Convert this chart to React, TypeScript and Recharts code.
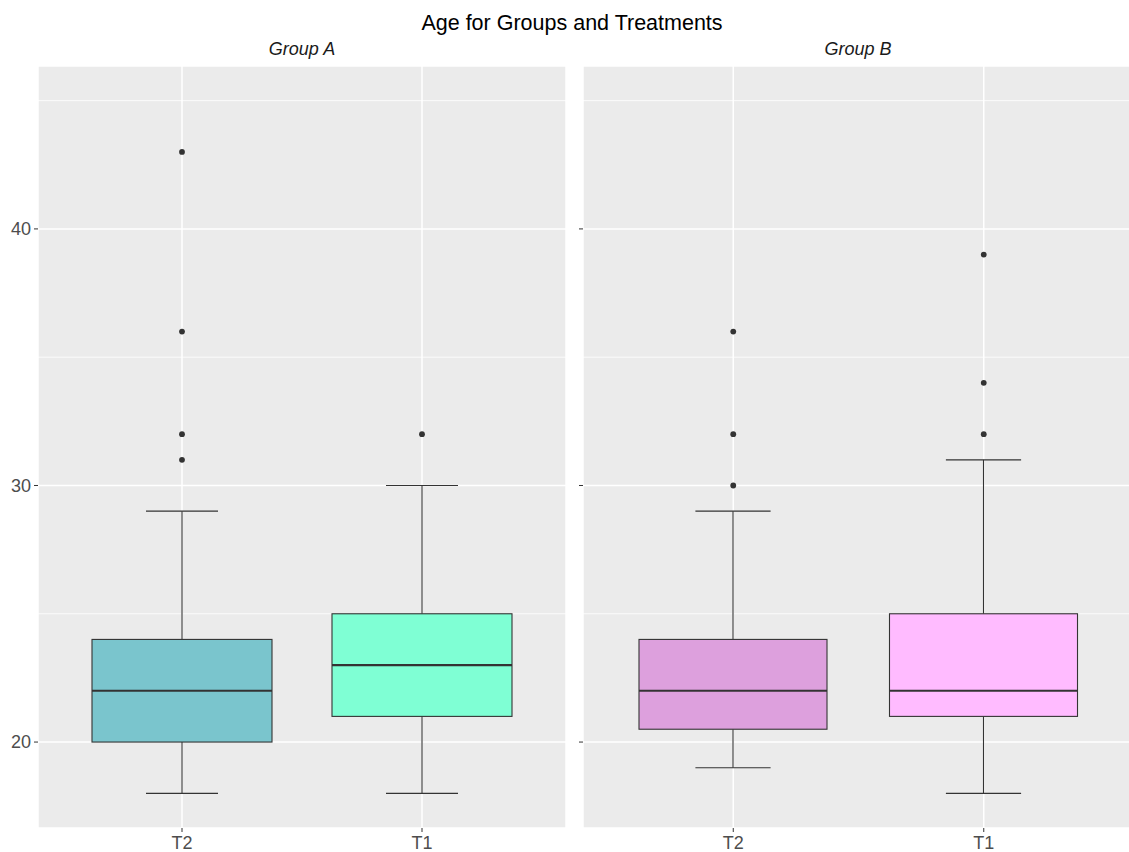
import React from 'react';
import {
  ComposedChart,
  Bar,
  Line,
  XAxis,
  YAxis,
  CartesianGrid,
} from 'recharts';

// Treatments shown along each panel's x axis
const treatments = ['T2', 'T1'];

// Group A box-plot statistics (per treatment)
const groupALower = [18, 18];
const groupAQ1 = [20, 21];
const groupAMedian = [22, 23];
const groupAQ3 = [24, 25];
const groupAUpper = [29, 30];
const groupAOutliers = [[31, 32, 36, 43], [32]];
const groupAColors = ['#7AC5CD', '#7FFFD4'];

// Group B box-plot statistics (per treatment)
const groupBLower = [19, 18];
const groupBQ1 = [20.5, 21];
const groupBMedian = [22, 22];
const groupBQ3 = [24, 25];
const groupBUpper = [29, 31];
const groupBOutliers = [[30, 32, 36], [32, 34, 39]];
const groupBColors = ['#DDA0DD', '#FFBBFF'];

// Y axis
const yDomain = [16.65, 46.35];
const yMajorTicks = [20, 30, 40];
const yMinorTicks = [25, 35, 45];

const FONT = '"Liberation Sans", Arial, Helvetica, sans-serif';
const INK = '#333333';

type Row = {
  trt: string;
  lower: number;
  q1: number;
  median: number;
  q3: number;
  upper: number;
  color: string;
  [k: string]: any;
};

function buildRows(
  lower: number[],
  q1: number[],
  median: number[],
  q3: number[],
  upper: number[],
  outliers: number[][],
  colors: string[]
): Row[] {
  return treatments.map((trt, i) => {
    const row: Row = {
      trt,
      lower: lower[i],
      q1: q1[i],
      median: median[i],
      q3: q3[i],
      upper: upper[i],
      color: colors[i],
    };
    for (let k = 0; k < 4; k++) {
      row['o' + k] = outliers[i][k] ?? null;
    }
    return row;
  });
}

const groupARows = buildRows(groupALower, groupAQ1, groupAMedian, groupAQ3, groupAUpper, groupAOutliers, groupAColors);
const groupBRows = buildRows(groupBLower, groupBQ1, groupBMedian, groupBQ3, groupBUpper, groupBOutliers, groupBColors);

// Draws a whole box plot inside the range bar [lower, upper] laid out by recharts
const BoxShape = (props: any) => {
  const { x, y, width, height, payload } = props;
  if (!payload || width == null || y == null) return null;
  const top = Math.min(y, y + height);
  const bot = Math.max(y, y + height);
  const span = payload.upper - payload.lower;
  const py = (v: number) => bot - ((v - payload.lower) / span) * (bot - top);
  const cx = x + width / 2;
  const capHalf = width * 0.2;
  const yQ1 = py(payload.q1);
  const yQ3 = py(payload.q3);
  const yMed = py(payload.median);
  const yLo = py(payload.lower);
  const yHi = py(payload.upper);
  return (
    <g>
      <line x1={cx} x2={cx} y1={yHi} y2={yQ3} stroke={INK} strokeWidth={1.1} />
      <line x1={cx} x2={cx} y1={yQ1} y2={yLo} stroke={INK} strokeWidth={1.1} />
      <line x1={cx - capHalf} x2={cx + capHalf} y1={yHi} y2={yHi} stroke={INK} strokeWidth={1.1} />
      <line x1={cx - capHalf} x2={cx + capHalf} y1={yLo} y2={yLo} stroke={INK} strokeWidth={1.1} />
      <rect
        x={x}
        y={yQ3}
        width={width}
        height={yQ1 - yQ3}
        fill={payload.color}
        stroke={INK}
        strokeWidth={1.1}
      />
      <line x1={x} x2={x + width} y1={yMed} y2={yMed} stroke={INK} strokeWidth={2.2} />
    </g>
  );
};

type PanelProps = {
  rows: Row[];
  width: number;
  axisWidth: number;
  showLabels: boolean;
};

const PLOT_TOP = 66;
const PLOT_BOTTOM_GAP = 24;
const HEIGHT = 852;

function Panel({ rows, width, axisWidth, showLabels }: PanelProps) {
  const plotW = width - axisWidth;
  const pad = Math.round(plotW * (0.1 / 2.2));
  const band = (plotW - 2 * pad) / treatments.length;
  const barSize = Math.round(band * 0.75);
  const tickStyle = { fill: '#4D4D4D', fontSize: 18, fontFamily: FONT };
  return (
    <ComposedChart
      width={width}
      height={HEIGHT}
      data={rows}
      margin={{ top: PLOT_TOP, right: 0, bottom: 0, left: 0 }}
      barSize={barSize}
    >
      <CartesianGrid
        fill="#EBEBEB"
        stroke="#FFFFFF"
        strokeWidth={0.8}
        vertical={false}
        horizontalValues={yMinorTicks}
      />
      <CartesianGrid stroke="#FFFFFF" strokeWidth={1.5} />
      <XAxis
        dataKey="trt"
        type="category"
        padding={{ left: pad, right: pad }}
        height={PLOT_BOTTOM_GAP}
        axisLine={false}
        tickLine={{ stroke: INK, strokeWidth: 1 }}
        tickSize={4}
        tickMargin={4}
        tick={tickStyle}
        interval={0}
      />
      <YAxis
        type="number"
        domain={yDomain}
        allowDataOverflow
        ticks={yMajorTicks}
        width={axisWidth}
        axisLine={false}
        tickLine={{ stroke: INK, strokeWidth: 1 }}
        tickSize={4}
        tickMargin={3}
        tick={tickStyle}
        tickFormatter={showLabels ? (v: number) => String(v) : () => ''}
      />
      <Bar
        dataKey={(d: Row) => [d.lower, d.upper]}
        shape={BoxShape}
        isAnimationActive={false}
      />
      {[0, 1, 2, 3].map((k) => (
        <Line
          key={k}
          dataKey={'o' + k}
          stroke="none"
          dot={{ r: 2.9, fill: INK, stroke: 'none' }}
          activeDot={false}
          connectNulls={false}
          isAnimationActive={false}
        />
      ))}
    </ComposedChart>
  );
}

export default function App() {
  return (
    <div
      style={{
        position: 'absolute',
        left: 0,
        top: 0,
        width: 1129,
        height: 852,
        overflow: 'hidden',
        background: '#FFFFFF',
        fontFamily: FONT,
      }}
    >
      <div style={{ position: 'absolute', left: 0, top: 0 }}>
        <Panel rows={groupARows} width={566} axisWidth={38} showLabels />
      </div>
      <div style={{ position: 'absolute', left: 578, top: 0 }}>
        <Panel rows={groupBRows} width={556} axisWidth={5} showLabels={false} />
      </div>
      <svg
        width={1129}
        height={70}
        style={{ position: 'absolute', left: 0, top: 0, pointerEvents: 'none' }}
      >
        <text x={572} y={30} textAnchor="middle" fontSize={21.5} fill="#000000" fontFamily={FONT}>
          Age for Groups and Treatments
        </text>
        <text x={302} y={55} textAnchor="middle" fontSize={18} fontStyle="italic" fill="#1A1A1A" fontFamily={FONT}>
          Group A
        </text>
        <text x={858} y={55} textAnchor="middle" fontSize={18} fontStyle="italic" fill="#1A1A1A" fontFamily={FONT}>
          Group B
        </text>
      </svg>
    </div>
  );
}
